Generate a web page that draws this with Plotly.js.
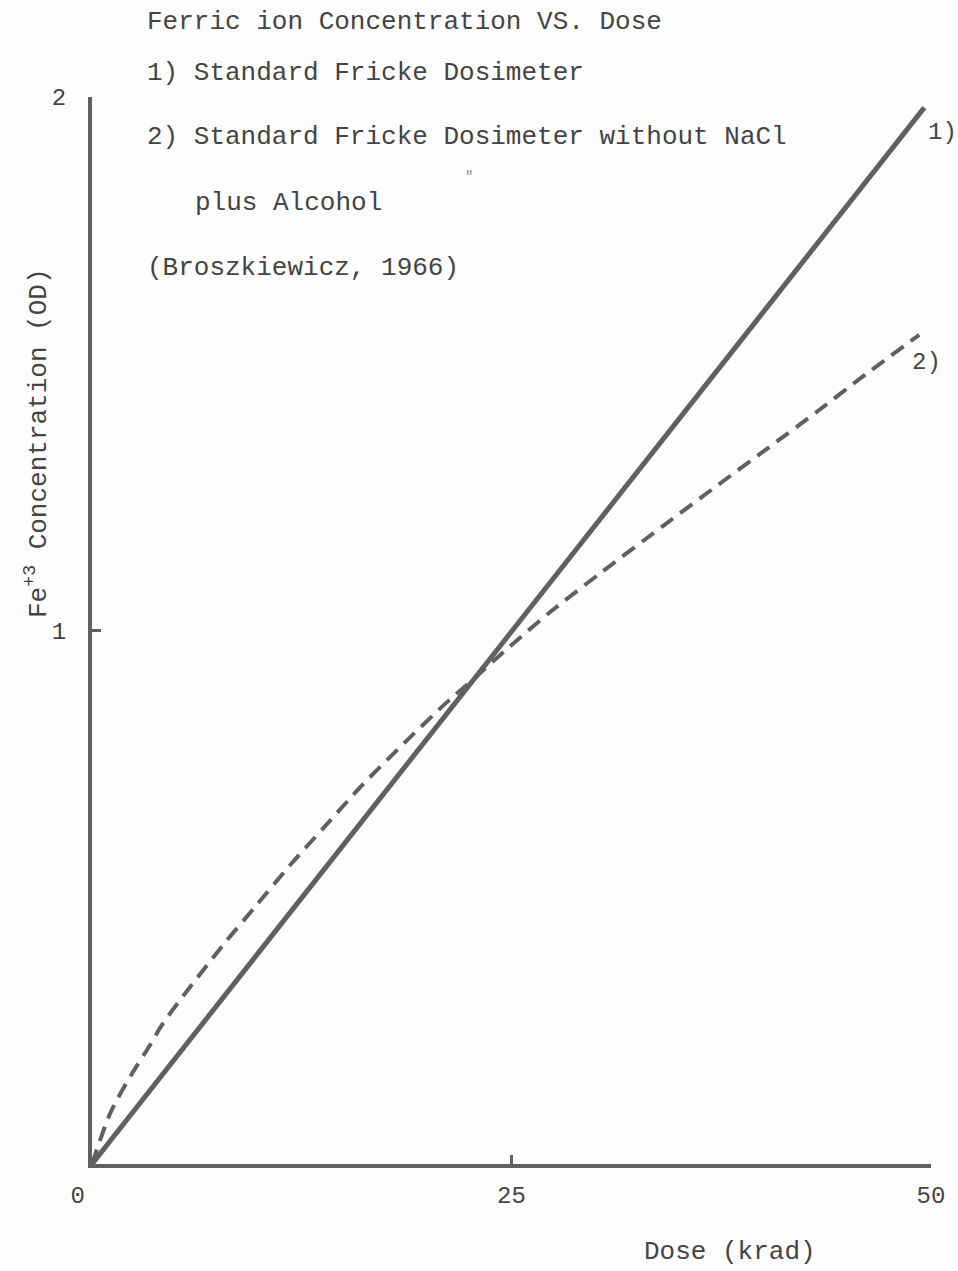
<!DOCTYPE html>
<html>
<head>
<meta charset="utf-8">
<script src="https://cdn.plot.ly/plotly-3.0.1.min.js"></script>
<style>html,body{margin:0;padding:0;background:#fdfdfd;}#chart{width:958px;height:1271px;}</style>
</head>
<body>
<div id="chart"></div>
<script>
// Data
const dose1 = [0, 49.6];
const fe1 = [0, 1.98];
const dose2 = [0, 1.1, 2.3, 3.5, 4.2, 5.8, 7.8, 9.8, 11.8, 13.8, 16.1, 18.8, 21.3, 22.3, 24.9, 27.4, 30.4, 34.2, 37.4, 40.2, 43.2, 46.1, 49.3];
const fe2 = [0, 0.096, 0.165, 0.225, 0.262, 0.33, 0.41, 0.485, 0.56, 0.63, 0.71, 0.795, 0.87, 0.897, 0.97, 1.037, 1.11, 1.20, 1.275, 1.34, 1.41, 1.48, 1.554];
const xTicks = [0, 25, 50];
const xTickText = ['0\u00a0\u00a0', '25', '50'];
const yTicks = [1, 2];
const yTickText = ['1', '2'];
const titleLines = [
  'Ferric ion Concentration VS. Dose',
  '1) Standard Fricke Dosimeter',
  '2) Standard Fricke Dosimeter without NaCl',
  'plus Alcohol',
  '(Broszkiewicz, 1966)'
];
const seriesLabels = ['1)', '2)'];
const dittoMark = '\u02ba';

const W = 958, H = 1271;
const L = 92, R = 27, T = 97, B = 107;
const pw = W - L - R, ph = H - T - B;
const px = v => (v - L) / pw;
const py = v => (H - B - v) / ph;

const ink = '#606060';
const txt = '#444444';
const mono = 'Liberation Mono, Courier New, monospace';

const traces = [
  {x: dose1, y: fe1, mode: 'lines', line: {color: ink, width: 5}, hoverinfo: 'skip'},
  {x: dose2, y: fe2, mode: 'lines', line: {color: ink, width: 4, dash: '15px,9px', shape: 'spline', smoothing: 0.8}, hoverinfo: 'skip'}
];

const titlePos = [[145, 22], [145, 73], [145, 137], [193, 203], [145, 268]];
const ann = titleLines.map((t, i) => ({
  text: t, xref: 'paper', yref: 'paper', x: px(titlePos[i][0]), y: py(titlePos[i][1]),
  xanchor: 'left', yanchor: 'middle', showarrow: false,
  font: {family: mono, size: 26, color: txt}
}));
ann.push({text: seriesLabels[0], xref: 'paper', yref: 'paper', x: px(942), y: py(133), xanchor: 'center', yanchor: 'middle', showarrow: false, font: {family: mono, size: 24, color: txt}});
ann.push({text: seriesLabels[1], xref: 'paper', yref: 'paper', x: px(926), y: py(362), xanchor: 'center', yanchor: 'middle', showarrow: false, font: {family: mono, size: 24, color: txt}});
ann.push({text: dittoMark, xref: 'paper', yref: 'paper', x: px(469), y: py(177), xanchor: 'center', yanchor: 'middle', showarrow: false, font: {family: mono, size: 14, color: '#888888'}});
ann.push({text: 'Dose (krad)', xref: 'paper', yref: 'paper', x: px(730), y: py(1252), xanchor: 'center', yanchor: 'middle', showarrow: false, font: {family: mono, size: 26, color: txt}});
ann.push({text: 'Fe<sup>+3</sup> Concentration (OD)', xref: 'paper', yref: 'paper', x: px(37), y: py(443), xanchor: 'center', yanchor: 'middle', textangle: -90, showarrow: false, font: {family: mono, size: 26, color: txt}});

const layout = {
  width: W, height: H,
  margin: {l: L, r: R, t: T, b: B},
  paper_bgcolor: '#fdfdfd', plot_bgcolor: '#fdfdfd',
  showlegend: false,
  xaxis: {
    range: [0, 50], showgrid: false, zeroline: false,
    showline: true, linecolor: ink, linewidth: 4,
    tickvals: xTicks, ticktext: xTickText, ticks: 'inside', ticklen: 9, tickwidth: 3, tickcolor: ink,
    tickfont: {family: mono, size: 24, color: txt}, ticklabelstandoff: 6
  },
  yaxis: {
    range: [0, 2], showgrid: false, zeroline: false,
    showline: true, linecolor: ink, linewidth: 4,
    tickvals: yTicks, ticktext: yTickText, ticks: 'inside', ticklen: 9, tickwidth: 3, tickcolor: ink,
    tickfont: {family: mono, size: 24, color: txt}, ticklabelstandoff: 17
  },
  annotations: ann
};

Plotly.newPlot('chart', traces, layout, {staticPlot: true});
</script>
</body>
</html>
